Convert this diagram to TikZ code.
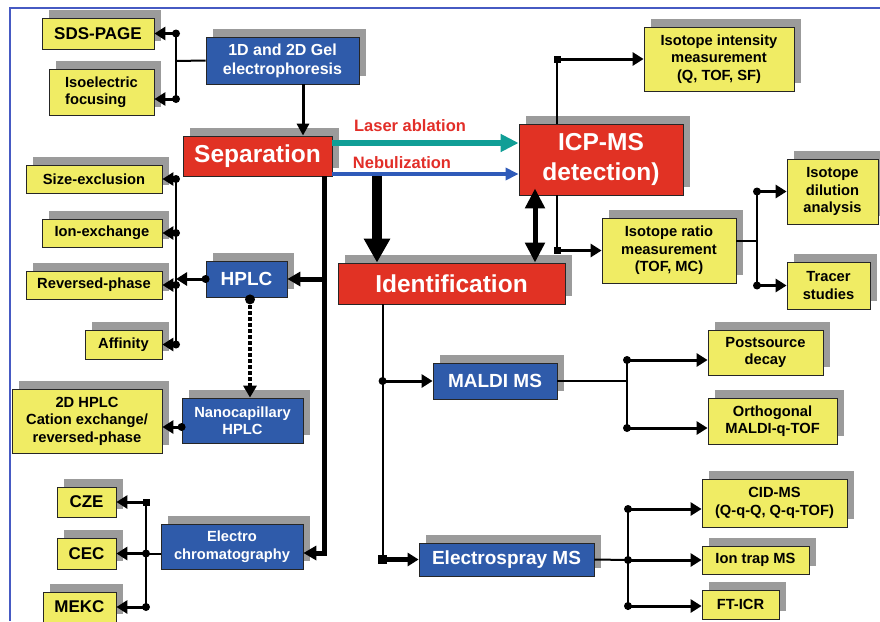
\documentclass[tikz,border=0pt]{standalone}
\usepackage{fontspec}
\setmainfont{Liberation Sans}
\usetikzlibrary{arrows.meta, positioning, shadows}
\definecolor{boxyellow}{RGB}{240,236,100}
\definecolor{boxblue}{RGB}{47,91,170}
\definecolor{boxred}{RGB}{225,50,36}
\definecolor{shadowgray}{RGB}{155,155,155}
\definecolor{laserteal}{RGB}{16,158,150}
\definecolor{nebublue}{RGB}{47,91,185}
\definecolor{labelred}{RGB}{226,46,40}
\definecolor{frameblue}{RGB}{70,90,195}

\tikzset{
  basebox/.style={draw=black!85, line width=0.8pt, align=center, inner sep=1pt,
    font=\bfseries\fontsize{14.7}{17.5}\selectfont,
    drop shadow={shadow xshift=7pt, shadow yshift=8pt, fill=shadowgray, opacity=1}},
  ybox/.style={basebox, fill=boxyellow},
  bbox/.style={basebox, fill=boxblue, text=white},
  rbox/.style={basebox, fill=boxred, text=white, font=\bfseries\fontsize{24.5}{30}\selectfont},
  bigtxt/.style={font=\bfseries\fontsize{17}{20}\selectfont},
  midtxt/.style={font=\bfseries\fontsize{19}{22}\selectfont},
  arrowlabel/.style={text=labelred, font=\bfseries\fontsize{16.5}{19}\selectfont},
  busline/.style={line width=2pt},
  stubarrow/.style={line width=3pt, -{Triangle[length=11pt, width=13pt]}},
  trunkarrow/.style={line width=5pt, -{Triangle[length=13pt, width=14pt]}},
  laserarrow/.style={laserteal, line width=5.5pt, -{Triangle[length=18pt, width=17pt]}},
  nebuarrow/.style={nebublue, line width=4.5pt, -{Triangle[length=13pt, width=12pt]}},
  bigarrow/.style={line width=10pt, -{Triangle[length=24pt, width=25pt]}},
  dblarrow/.style={line width=5pt, {Triangle[length=20pt, width=19pt]}-{Triangle[length=20pt, width=19pt]}},
  dotarrow/.style={line width=3.5pt, dash pattern=on 3.5pt off 2.5pt, -{Triangle[length=12pt, width=13pt]}}
}

\begin{document}
\begin{tikzpicture}[x=1pt, y=-1pt]
    \useasboundingbox (0,0) rectangle (880,621);
    % Frame
    \draw[frameblue, line width=1.2pt] (10,621) -- (10,8) -- (880,8);

    % Main steps
    \node[rbox, minimum width=149pt, minimum height=40pt] (sep) at (257.5,156) {Separation};
    \node[rbox, minimum width=164pt, minimum height=71pt] (icp) at (601,159.5) {ICP-MS\\detection)};
    \node[rbox, minimum width=227pt, minimum height=41pt] (ident) at (451.5,283.5) {Identification};

    % Gel electrophoresis
    \node[bbox, font=\bfseries\fontsize{16}{19}\selectfont, minimum width=153pt, minimum height=47pt] (gel) at (282.5,60.5) {1D and 2D Gel\\electrophoresis};
    \node[ybox, bigtxt, minimum width=112pt, minimum height=31pt] (sds) at (98,33.5) {SDS-PAGE};
    \node[ybox, align=left, minimum width=105pt, minimum height=46pt] (iso) at (101.5,92) {Isoelectric\\focusing};

    % ICP-MS detection
    \node[ybox, minimum width=150pt, minimum height=64pt] (inten) at (719,59) {Isotope intensity\\measurement\\(Q, TOF, SF)};
    \node[ybox, minimum width=134pt, minimum height=65pt] (ratio) at (669,250.5) {Isotope ratio\\measurement\\(TOF, MC)};
    \node[ybox, minimum width=91pt, minimum height=65pt] (dilut) at (832.5,191.5) {Isotope\\dilution\\analysis};
    \node[ybox, minimum width=83pt, minimum height=47pt] (tracer) at (828.5,285.5) {Tracer\\studies};

    % HPLC
    \node[bbox, midtxt, minimum width=81pt, minimum height=36pt] (hplc) at (246.5,279) {HPLC};
    \node[ybox, minimum width=136pt, minimum height=28pt] (sizex) at (94,179) {Size-exclusion};
    \node[ybox, minimum width=120pt, minimum height=28pt] (ionex) at (102,233) {Ion-exchange};
    \node[ybox, minimum width=136pt, minimum height=28pt] (revph) at (94,285) {Reversed-phase};
    \node[ybox, minimum width=77pt, minimum height=29pt] (affin) at (123.5,344.5) {Affinity};
    \node[bbox, minimum width=121pt, minimum height=45pt] (nano) at (242.5,420.5) {Nanocapillary\\HPLC};
    \node[ybox, minimum width=150pt, minimum height=64pt] (twod) at (87,421) {2D HPLC\\Cation exchange/\\reversed-phase};

    % Electrochromatography
    \node[bbox, minimum width=142pt, minimum height=45pt] (electro) at (232,546.5) {Electro\\chromatography};
    \node[ybox, bigtxt, minimum width=59pt, minimum height=30pt] (cze) at (86.5,502) {CZE};
    \node[ybox, bigtxt, minimum width=59pt, minimum height=31pt] (cec) at (86.5,553.5) {CEC};
    \node[ybox, bigtxt, minimum width=73pt, minimum height=30pt] (mekc) at (79.5,607) {MEKC};

    % Mass spectrometry
    \node[bbox, midtxt, minimum width=124pt, minimum height=36pt] (maldi) at (495,381) {MALDI MS};
    \node[ybox, minimum width=115pt, minimum height=45pt] (post) at (765.5,352.5) {Postsource\\decay};
    \node[ybox, minimum width=129pt, minimum height=46pt] (ortho) at (772.5,421) {Orthogonal\\MALDI-q-TOF};
    \node[bbox, midtxt, minimum width=175pt, minimum height=33pt] (espray) at (506.5,559.5) {Electrospray MS};
    \node[ybox, minimum width=145pt, minimum height=48pt] (cid) at (774.5,503) {CID-MS\\(Q-q-Q, Q-q-TOF)};
    \node[ybox, minimum width=107pt, minimum height=28pt] (iontrap) at (755.5,560) {Ion trap MS};
    \node[ybox, minimum width=77pt, minimum height=29pt] (fticr) at (740.5,604.5) {FT-ICR};

    % Gel branches
    \coordinate (gelbus) at (176,61);
    \coordinate (gelsds) at (sds.east -| gelbus);
    \coordinate (geliso) at ([yshift=-7pt]iso.east -| gelbus);
    \draw[busline] (gel.west) -- (gelbus);
    \draw[busline] (gelsds) -- (geliso);
    \draw[stubarrow] (gelsds) -- (sds.east);
    \draw[stubarrow] (geliso) -- (geliso -| iso.east);
    \fill (gelsds) circle (4pt);
    \fill (geliso) circle (4pt);
    \draw[line width=3pt, -{Triangle[length=12pt, width=12pt]}] ([xshift=20.5pt]gel.south) -- ([xshift=20.5pt]gel.south |- sep.north);

    % Separation to ICP-MS
    \draw[laserarrow] ([yshift=13pt]sep.east) -- ([yshift=13pt]sep.east -| icp.west);
    \draw[nebuarrow] ([yshift=-18pt]sep.east) -- ([yshift=-18pt]sep.east -| icp.west);
    \node[arrowlabel] (laser) at (410,126) {Laser ablation};
    \node[arrowlabel] (nebu) at (402,163) {Nebulization};

    % Separation to identification
    \draw[bigarrow] ([xshift=-74.5pt]ident.north |- sep.south) -- ([xshift=-74.5pt]ident.north);
    \draw[dblarrow] ([xshift=-66pt, yshift=7pt]icp.south) -- ([xshift=-66pt]icp.south |- ident.north);

    % ICP-MS branches
    \coordinate (icpup) at ([xshift=-44pt]icp.north |- inten.west);
    \coordinate (icpdown) at ([xshift=-44pt]icp.south |- ratio.west);
    \draw[busline] ([xshift=-44pt]icp.north) -- (icpup);
    \draw[busline] ([xshift=-44pt]icp.south) -- (icpdown);
    \draw[stubarrow] (icpup) -- (inten.west);
    \draw[stubarrow] (icpdown) -- (ratio.west);
    \fill ([shift={(-3.5pt,-3.5pt)}]icpup) rectangle ++(7pt,7pt);
    \fill ([shift={(-3.5pt,-3.5pt)}]icpdown) rectangle ++(7pt,7pt);

    % Isotope ratio branches
    \coordinate (ratbus) at (757,240.5);
    \coordinate (ratdil) at (dilut.west -| ratbus);
    \coordinate (rattra) at (tracer.west -| ratbus);
    \draw[busline] ([yshift=10pt]ratio.east) -- (ratbus);
    \draw[busline] (ratdil) -- (rattra);
    \draw[stubarrow] (ratdil) -- (dilut.west);
    \draw[stubarrow] (rattra) -- (tracer.west);
    \fill (ratdil) circle (4pt);
    \fill (rattra) circle (4pt);

    % Separation trunk
    \coordinate (trunk) at ([xshift=66.5pt]sep.south);
    \draw[trunkarrow] (trunk) |- ([yshift=-6.5pt]electro.east);
    \draw[trunkarrow] (trunk |- hplc.east) -- (hplc.east);

    % HPLC branches
    \coordinate (colbus) at (176,279);
    \coordinate (colsize) at (sizex.east -| colbus);
    \coordinate (colion) at (ionex.east -| colbus);
    \coordinate (colrev) at (revph.east -| colbus);
    \coordinate (colaff) at (affin.east -| colbus);
    \draw[busline] (colsize) -- (colaff);
    \draw[stubarrow] (hplc.west) -- (colbus);
    \fill (hplc.west) circle (4pt);
    \draw[stubarrow] (colsize) -- (sizex.east);
    \draw[stubarrow] (colion) -- (ionex.east);
    \draw[stubarrow] (colrev) -- (revph.east);
    \draw[stubarrow] (colaff) -- (affin.east);
    \fill (colsize) circle (4pt);
    \fill (colion) circle (4pt);
    \fill (colrev) circle (4pt);
    \fill (colaff) circle (4pt);

    % HPLC to nanocapillary
    \coordinate (hplcdot) at ([xshift=3.5pt, yshift=-2pt]hplc.south);
    \draw[dotarrow] (hplcdot) -- (hplcdot |- nano.north);
    \fill (hplcdot) circle (5pt);
    \coordinate (nanodot) at ([yshift=-6.5pt]nano.west);
    \draw[stubarrow] (nanodot) -- (nanodot -| twod.east);
    \fill (nanodot) circle (4pt);

    % Electrochromatography branches
    \coordinate (capbus) at (146,554);
    \coordinate (capcze) at (cze.east -| capbus);
    \coordinate (capcec) at (cec.east -| capbus);
    \coordinate (capmek) at (mekc.east -| capbus);
    \draw[busline] ([yshift=-7.5pt]electro.west) -- (capbus);
    \draw[busline] (capcze) -- (capmek);
    \draw[stubarrow] (capcze) -- (cze.east);
    \draw[stubarrow] (capcec) -- (cec.east);
    \draw[stubarrow] (capmek) -- (mekc.east);
    \fill ([shift={(-3.5pt,-3.5pt)}]capcze) rectangle ++(7pt,7pt);
    \fill (capcec) circle (4pt);
    \fill (capmek) circle (4pt);

    % Identification branches
    \coordinate (idtop) at ([xshift=45pt]ident.south west);
    \coordinate (idmal) at (idtop |- maldi.west);
    \coordinate (idesp) at (idtop |- espray.west);
    \draw[busline] (idtop) -- (idesp);
    \draw[stubarrow] (idmal) -- (maldi.west);
    \draw[stubarrow, line width=5pt] (idesp) -- (espray.west);
    \fill (idmal) circle (4pt);
    \fill ([shift={(-4.5pt,-4.5pt)}]idesp) rectangle ++(9pt,9pt);

    % MALDI branches
    \coordinate (malbus) at (627,381);
    \coordinate (malpost) at ([yshift=-7.5pt]post.west -| malbus);
    \coordinate (malorth) at ([yshift=-7pt]ortho.west -| malbus);
    \draw[busline] (maldi.east) -- (malbus);
    \draw[busline] (malpost) -- (malorth);
    \draw[stubarrow] (malpost) -- (malpost -| post.west);
    \draw[stubarrow] (malorth) -- (malorth -| ortho.west);
    \fill (malpost) circle (4pt);
    \fill (malorth) circle (4pt);

    % Electrospray branches
    \coordinate (espbus) at (628,560);
    \coordinate (espcid) at ([yshift=-6pt]cid.west -| espbus);
    \coordinate (esptrap) at (iontrap.west -| espbus);
    \coordinate (espft) at ([yshift=-1.5pt]fticr.west -| espbus);
    \draw[busline] (espray.east) -- (espbus);
    \draw[busline] (espcid) -- ([yshift=-4pt]espft);
    \draw[stubarrow] (espcid) -- (espcid -| cid.west);
    \draw[stubarrow] (esptrap) -- (iontrap.west);
    \draw[stubarrow] (espft) -- (espft -| fticr.west);
    \fill (espcid) circle (4pt);
    \fill (esptrap) circle (4pt);
    \fill (espft) circle (4pt);
\end{tikzpicture}
\end{document}
